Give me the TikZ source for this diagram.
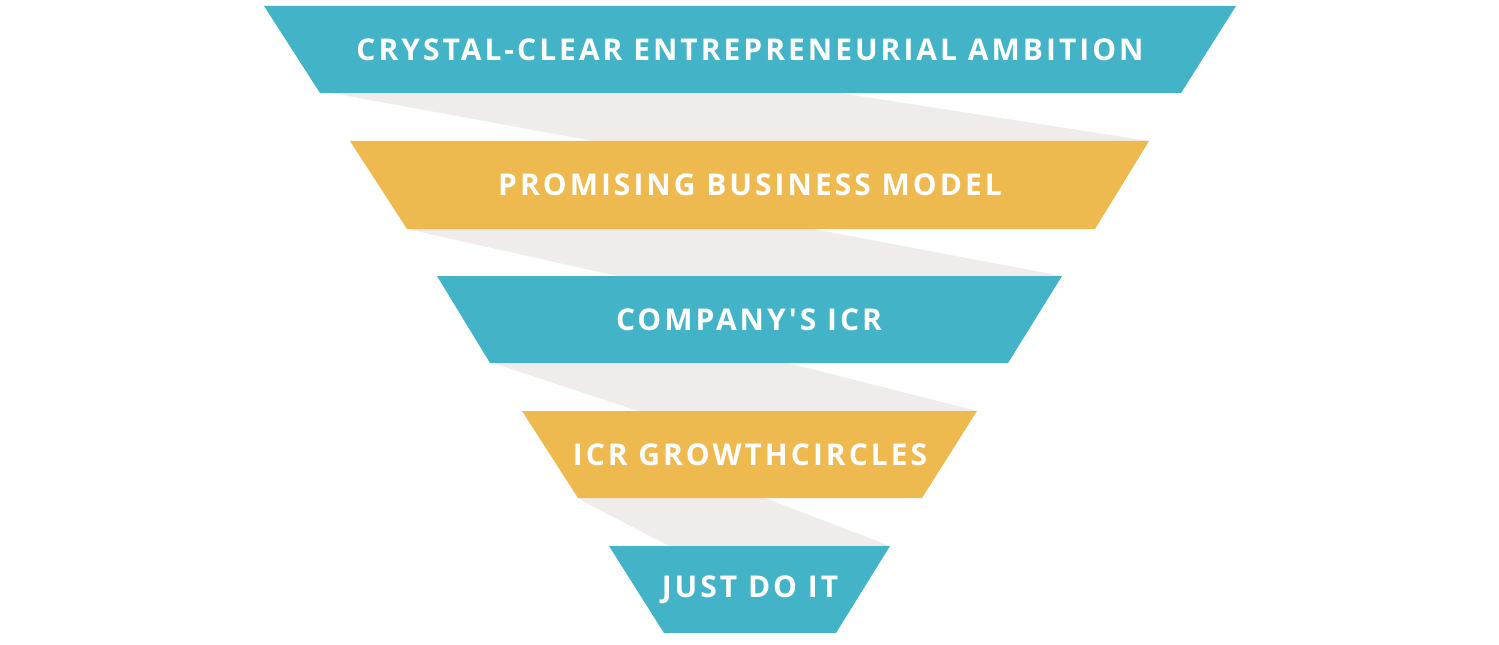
\documentclass[tikz,border=0pt]{standalone}
\usepackage{fontspec}
\newfontfamily\bandfont[LetterSpace=10]{Open Sans}
\definecolor{bandteal}{HTML}{43B3C7}
\definecolor{bandgold}{HTML}{EEB94F}
\definecolor{foldgray}{HTML}{EFECEB}
\begin{document}
\begin{tikzpicture}[x=0.5pt,y=0.5pt,
    fold/.style={fill=foldgray},
    teal/.style={fill=bandteal},
    gold/.style={fill=bandgold},
    label/.style={text=white,font=\bandfont\bfseries\fontsize{15}{17}\selectfont,inner sep=0pt}]
  \useasboundingbox (0,0) rectangle (1499,644);
  % folds behind the bands
  \fill[fold] (332,551) -- (840,551) -- (1149,503) -- (593,503) -- cycle;
  \fill[fold] (407,415) -- (813,415) -- (1062,368) -- (617,368) -- cycle;
  \fill[fold] (493,281) -- (788,281) -- (977,233) -- (638,233) -- cycle;
  \fill[fold] (577,146) -- (765,146) -- (890,98) -- (669,98) -- cycle;
  % bands
  \fill[teal] (264,638) -- (1236,638) -- (1181,551) -- (320,551) -- cycle;
  \fill[gold] (350,503) -- (1149,503) -- (1095,415) -- (407,415) -- cycle;
  \fill[teal] (437,368) -- (1062,368) -- (1008,281) -- (490,281) -- cycle;
  \fill[gold] (522,233) -- (977,233) -- (922,146) -- (578,146) -- cycle;
  \fill[teal] (609,98) -- (890,98) -- (836,11) -- (664,11) -- cycle;
  % texts
  \node[label] (ambition) at (750,594.5) {CRYSTAL-CLEAR ENTREPRENEURIAL AMBITION};
  \node[label] (model) at (750,459) {PROMISING BUSINESS MODEL};
  \node[label] (icr) at (749,324.5) {COMPANY'S ICR};
  \node[label] (circles) at (750,189.5) {ICR GROWTHCIRCLES};
  \node[label] (doit) at (750,54.5) {JUST DO IT};
\end{tikzpicture}
\end{document}
